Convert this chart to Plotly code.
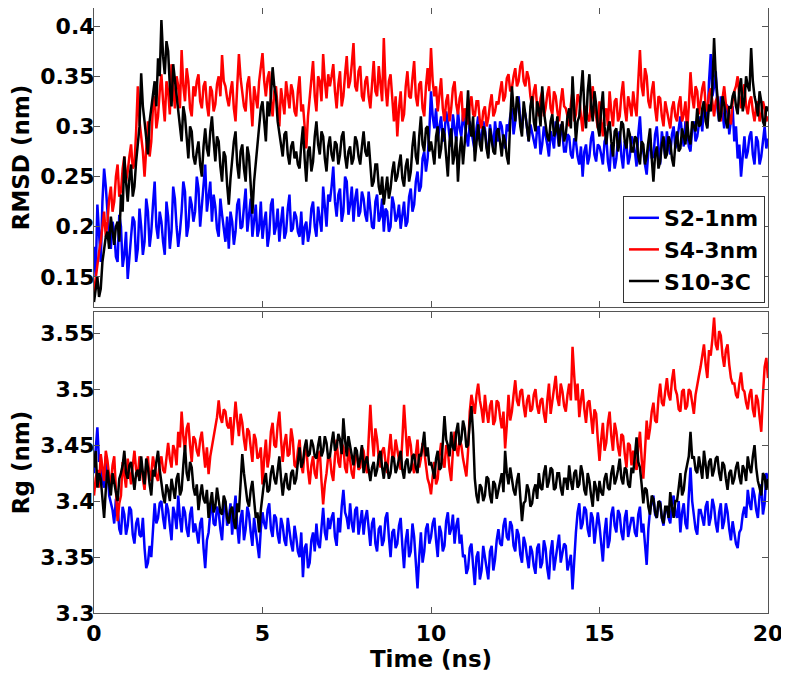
import plotly.graph_objects as go
from plotly.subplots import make_subplots

# Time grid (ns), sampled every 0.05 ns
time_ns = [round(i * 0.05, 2) for i in range(401)]

series_names = ["S2-1nm", "S4-3nm", "S10-3C"]
series_colors = ["#0000ff", "#ff0000", "#000000"]

# Values in pm (0.001 nm).
# "_even" arrays: samples at t = 0.0, 0.1, ..., 20.0 ns
# "_odd" arrays:  samples at t = 0.05, 0.15, ..., 19.95 ns
rmsd_s2_even = [
    180, 222, 165, 258, 212, 178, 195, 165, 200, 172,
    148, 190, 205, 178, 200, 185, 215, 195, 245, 188,
    205, 172, 210, 195, 228, 180, 215, 235, 200, 222,
    215, 238, 222, 262, 230, 205, 220, 190, 212, 185,
    178, 205, 195, 228, 200, 238, 210, 190, 222, 198,
    188, 215, 192, 228, 200, 185, 220, 195, 232, 198,
    210, 190, 182, 205, 195, 225, 190, 208, 240, 200,
    225, 260, 210, 238, 215, 245, 222, 205, 238, 215,
    228, 205, 220, 198, 232, 210, 195, 215, 200, 222,
    210, 198, 225, 205, 238, 222, 255, 240, 275, 268,
    335, 298, 285, 310, 292, 305, 280, 300, 315, 290,
    302, 280, 295, 275, 310, 288, 298, 272, 290, 305,
    285, 300, 278, 295, 318, 305, 330, 298, 312, 285,
    295, 278, 300, 282, 292, 270, 288, 305, 280, 292,
    275, 290, 268, 285, 262, 250, 282, 270, 295, 265,
    280, 262, 290, 255, 275, 268, 295, 258, 282, 270,
    285, 260, 310, 275, 252, 288, 270, 300, 262, 282,
    295, 272, 300, 285, 310, 280, 298, 275, 305, 290,
    310, 325, 300, 372, 340, 318, 330, 298, 320, 305,
    285, 268, 250, 290, 275, 295, 262, 285, 270, 300,
    288,
]
rmsd_s2_odd = [
    150, 195, 225, 240, 190, 205, 170, 212, 160, 195,
    175, 210, 165, 218, 172, 228, 180, 222, 200, 215,
    185, 225, 178, 240, 200, 195, 245, 190, 230, 205,
    250, 200, 248, 215, 245, 232, 198, 228, 195, 210,
    215, 182, 222, 198, 220, 195, 228, 210, 190, 225,
    205, 180, 222, 192, 218, 205, 188, 218, 195, 215,
    195, 215, 200, 185, 218, 200, 220, 195, 215, 232,
    240, 225, 232, 205, 250, 212, 240, 228, 210, 235,
    212, 235, 200, 225, 205, 228, 218, 195, 230, 205,
    222, 215, 200, 230, 215, 245, 235, 268, 255, 295,
    310, 318, 300, 285, 315, 290, 312, 285, 298, 312,
    288, 305, 282, 298, 285, 305, 280, 302, 278, 290,
    305, 285, 302, 310, 292, 322, 305, 318, 295, 302,
    285, 298, 272, 300, 282, 295, 278, 290, 302, 275,
    292, 272, 288, 270, 280, 275, 262, 288, 272, 282,
    272, 285, 265, 282, 258, 288, 270, 285, 262, 290,
    275, 292, 280, 262, 275, 268, 292, 278, 295, 270,
    280, 292, 278, 300, 292, 305, 280, 298, 285, 302,
    295, 312, 345, 330, 355, 305, 315, 322, 292, 320,
    300, 282, 275, 268, 290, 272, 290, 262, 285, 278,
]
rmsd_s4_even = [
    135, 160, 185, 215, 205, 240, 225, 262, 235, 270,
    255, 282, 262, 340, 290, 250, 305, 285, 330, 310,
    352, 305, 335, 362, 318, 340, 376, 325, 345, 310,
    330, 352, 318, 345, 310, 335, 322, 350, 371, 340,
    320, 345, 305, 372, 335, 315, 350, 300, 330, 345,
    373, 330, 355, 310, 340, 300, 325, 345, 318, 335,
    310, 350, 322, 278, 330, 365, 315, 345, 372, 328,
    340, 362, 318, 355, 330, 370, 345, 383, 335, 360,
    325, 350, 318, 365, 330, 345, 388, 320, 352, 305,
    290, 335, 312, 355, 328, 365, 320, 345, 310, 358,
    378, 330, 315, 348, 305, 332, 318, 345, 312, 335,
    318, 302, 330, 310, 325, 298, 320, 308, 332, 315,
    322, 345, 330, 352, 338, 358, 345, 365, 340, 348,
    320, 342, 310, 335, 318, 340, 312, 330, 305, 338,
    318, 300, 335, 312, 328, 295, 320, 305, 340, 310,
    325, 290, 318, 335, 300, 328, 310, 345, 305, 322,
    335, 310, 376, 330, 350, 318, 345, 305, 328, 300,
    315, 298, 325, 305, 330, 312, 295, 354, 318, 335,
    325, 345, 315, 338, 310, 330, 305, 340, 318, 302,
    335, 350, 318, 342, 312, 330, 305, 325, 312, 318,
    310,
]
rmsd_s4_odd = [
    150, 175, 200, 190, 228, 215, 250, 230, 258, 245,
    270, 258, 295, 305, 275, 285, 270, 320, 298, 335,
    325, 345, 312, 340, 350, 318, 340, 358, 318, 340,
    345, 325, 340, 322, 340, 315, 342, 330, 345, 328,
    335, 318, 340, 348, 320, 342, 325, 340, 318, 360,
    345, 348, 325, 335, 318, 338, 312, 330, 342, 315,
    335, 315, 300, 310, 345, 330, 350, 325, 345, 352,
    350, 335, 342, 320, 352, 338, 362, 340, 355, 330,
    345, 330, 342, 335, 360, 325, 340, 345, 325, 330,
    318, 305, 340, 330, 348, 330, 342, 318, 340, 335,
    345, 340, 332, 318, 325, 305, 338, 322, 328, 305,
    308, 322, 312, 325, 305, 315, 300, 322, 310, 325,
    335, 325, 348, 335, 350, 340, 360, 345, 355, 330,
    335, 318, 328, 310, 332, 318, 335, 315, 325, 320,
    310, 322, 305, 332, 310, 318, 308, 328, 318, 298,
    305, 312, 300, 315, 325, 305, 332, 318, 330, 310,
    320, 345, 340, 358, 325, 335, 318, 330, 310, 325,
    305, 318, 310, 322, 305, 325, 320, 330, 340, 312,
    338, 320, 332, 322, 325, 315, 328, 322, 310, 325,
    340, 330, 335, 320, 325, 315, 320, 305, 325, 305,
]
rmsd_s10_even = [
    125, 150, 138, 178, 195, 210, 182, 205, 232, 270,
    225, 262, 240, 280, 353, 305, 272, 320, 345, 368,
    406, 352, 375, 320, 345, 318, 285, 310, 268, 295,
    262, 285, 250, 298, 270, 310, 265, 285, 245, 270,
    222, 268, 295, 248, 282, 245, 270, 213, 262, 300,
    325, 285, 310, 359, 330, 292, 270, 295, 262, 285,
    275, 258, 300, 245, 280, 265, 305, 272, 290, 255,
    290, 265, 282, 272, 295, 258, 280, 268, 285, 262,
    295, 270, 258, 245, 262, 232, 222, 250, 238, 265,
    250, 272, 240, 268, 255, 295, 262, 310, 275, 300,
    285, 262, 300, 278, 292, 250, 298, 272, 245, 290,
    280, 336, 290, 265, 302, 275, 295, 268, 288, 272,
    298, 270, 285, 262, 340, 305, 322, 290, 312, 285,
    330, 295, 318, 340, 300, 285, 312, 295, 280, 305,
    292, 318, 350, 285, 310, 356, 298, 352, 305, 322,
    290, 335, 282, 305, 270, 298, 285, 302, 278, 292,
    275, 288, 262, 282, 270, 298, 245, 280, 265, 290,
    272, 285, 260, 295, 278, 290, 305, 282, 300, 318,
    302, 325, 298, 315, 388, 330, 310, 322, 298, 318,
    335, 312, 348, 325, 340, 378, 330, 310, 325, 300,
    315,
]
rmsd_s10_odd = [
    140, 130, 165, 190, 178, 195, 200, 185, 215, 245,
    248, 230, 265, 300, 320, 285, 305, 335, 320, 350,
    370, 385, 340, 362, 330, 300, 320, 285, 300, 270,
    275, 262, 280, 278, 295, 285, 290, 260, 275, 242,
    248, 285, 262, 275, 258, 280, 235, 245, 285, 318,
    300, 325, 330, 340, 305, 280, 292, 272, 280, 268,
    262, 282, 268, 275, 255, 290, 282, 295, 268, 280,
    272, 285, 262, 290, 270, 275, 262, 290, 270, 280,
    275, 285, 240, 262, 240, 250, 240, 228, 255, 245,
    262, 248, 260, 245, 280, 270, 290, 282, 298, 275,
    275, 290, 268, 298, 270, 285, 262, 290, 275, 262,
    305, 300, 310, 288, 282, 300, 278, 298, 275, 295,
    280, 292, 270, 305, 318, 330, 300, 325, 295, 320,
    305, 325, 300, 315, 290, 305, 290, 310, 298, 285,
    310, 298, 320, 305, 335, 318, 335, 320, 335, 300,
    318, 300, 298, 285, 295, 275, 305, 285, 298, 275,
    290, 270, 285, 262, 285, 268, 272, 258, 282, 268,
    290, 268, 282, 275, 298, 282, 288, 305, 295, 300,
    318, 305, 322, 340, 350, 305, 330, 305, 320, 330,
    320, 338, 315, 350, 335, 345, 322, 335, 305, 320,
]

rg_s2_even = [
    3425, 3466, 3440, 3412, 3430, 3398, 3380, 3395, 3370, 3388,
    3378, 3392, 3362, 3385, 3368, 3358, 3345, 3350, 3398, 3385,
    3400, 3375, 3392, 3365, 3388, 3405, 3372, 3390, 3368, 3395,
    3380, 3362, 3385, 3340, 3372, 3398, 3378, 3390, 3365, 3400,
    3385, 3370, 3405, 3362, 3392, 3375, 3388, 3360, 3372, 3349,
    3390, 3375, 3398, 3368, 3385, 3362, 3378, 3360, 3372, 3355,
    3368, 3350, 3332, 3362, 3345, 3372, 3380, 3358, 3394, 3365,
    3375, 3390, 3360, 3372, 3410, 3385, 3398, 3372, 3395, 3380,
    3370, 3392, 3360, 3385, 3355, 3378, 3365, 3390, 3350, 3375,
    3362, 3385, 3340, 3375, 3355, 3368, 3322, 3372, 3355, 3380,
    3368, 3385, 3350, 3372, 3360, 3390, 3375, 3362, 3385, 3370,
    3352, 3340, 3362, 3325, 3355, 3338, 3350, 3330, 3360, 3348,
    3375, 3360, 3385, 3365, 3378, 3355, 3370, 3345, 3362, 3340,
    3355, 3335, 3362, 3345, 3358, 3330, 3365, 3348, 3370, 3352,
    3360, 3345, 3321, 3372, 3398, 3380, 3392, 3368, 3385, 3375,
    3378, 3346, 3385, 3365, 3395, 3372, 3388, 3365, 3392, 3375,
    3385, 3368, 3395, 3380, 3343, 3392, 3405, 3385, 3400, 3378,
    3395, 3380, 3405, 3385, 3372, 3398, 3375, 3430, 3385, 3370,
    3392, 3378, 3400, 3385, 3395, 3372, 3398, 3382, 3390, 3365,
    3370, 3358, 3375, 3395, 3410, 3392, 3405, 3385, 3415, 3398,
    3420,
]
rg_s2_odd = [
    3448, 3435, 3418, 3440, 3405, 3392, 3402, 3375, 3395, 3370,
    3395, 3370, 3380, 3370, 3385, 3340, 3360, 3375, 3380, 3398,
    3385, 3398, 3378, 3395, 3375, 3385, 3395, 3375, 3388, 3372,
    3372, 3380, 3358, 3365, 3390, 3380, 3395, 3375, 3392, 3378,
    3398, 3390, 3378, 3385, 3365, 3395, 3372, 3385, 3362, 3375,
    3380, 3392, 3375, 3388, 3370, 3385, 3365, 3385, 3362, 3378,
    3355, 3372, 3358, 3340, 3365, 3355, 3362, 3378, 3372, 3385,
    3385, 3368, 3385, 3395, 3390, 3375, 3380, 3392, 3370, 3392,
    3385, 3372, 3380, 3362, 3375, 3360, 3385, 3368, 3372, 3358,
    3378, 3360, 3365, 3350, 3380, 3345, 3350, 3345, 3375, 3362,
    3380, 3365, 3378, 3355, 3382, 3370, 3388, 3378, 3362, 3350,
    3335, 3358, 3342, 3350, 3330, 3360, 3340, 3355, 3338, 3365,
    3362, 3378, 3368, 3382, 3360, 3375, 3352, 3368, 3350, 3360,
    3342, 3358, 3340, 3365, 3340, 3355, 3338, 3362, 3345, 3362,
    3338, 3352, 3350, 3390, 3375, 3395, 3375, 3390, 3362, 3390,
    3362, 3372, 3358, 3388, 3378, 3392, 3372, 3385, 3368, 3385,
    3372, 3388, 3372, 3360, 3375, 3398, 3388, 3398, 3385, 3392,
    3385, 3398, 3390, 3400, 3390, 3380, 3405, 3400, 3375, 3392,
    3385, 3395, 3378, 3402, 3380, 3390, 3375, 3398, 3375, 3382,
    3362, 3372, 3388, 3385, 3398, 3412, 3392, 3405, 3388, 3425,
]
rg_s4_even = [
    3405, 3428, 3442, 3418, 3436, 3415, 3440, 3382, 3405, 3425,
    3438, 3415, 3445, 3422, 3435, 3410, 3440, 3425, 3432, 3418,
    3440, 3425, 3452, 3430, 3445, 3462, 3480, 3445, 3470, 3435,
    3455, 3440, 3462, 3430, 3424, 3448, 3465, 3490, 3470, 3480,
    3465, 3450, 3489, 3458, 3470, 3445, 3462, 3435, 3455, 3440,
    3415, 3455, 3440, 3470, 3448, 3480, 3435, 3460, 3442, 3455,
    3430, 3455, 3425, 3448, 3415, 3440, 3420, 3445, 3397, 3425,
    3440, 3418, 3455, 3430, 3448, 3425, 3438, 3420, 3442, 3430,
    3445, 3425, 3486, 3440, 3455, 3430, 3448, 3425, 3460, 3438,
    3445, 3428, 3486, 3440, 3450, 3425, 3455, 3438, 3445, 3420,
    3406, 3435, 3420, 3452, 3430, 3445, 3418, 3462, 3440, 3450,
    3430, 3445, 3495, 3478, 3505, 3482, 3495, 3470, 3490, 3472,
    3488, 3465, 3447, 3495, 3480, 3508, 3485, 3500, 3475, 3495,
    3482, 3500, 3478, 3492, 3470, 3505, 3488, 3512, 3485, 3498,
    3480, 3505, 3538, 3490, 3475, 3500, 3470, 3490, 3460, 3478,
    3436, 3470, 3452, 3480, 3445, 3462, 3440, 3458, 3430, 3450,
    3445, 3428, 3462, 3420, 3472, 3465, 3488, 3470, 3505, 3485,
    3510, 3490, 3518, 3495, 3480, 3500, 3485, 3498, 3478, 3505,
    3520, 3540, 3510, 3530, 3564, 3535, 3548, 3520, 3540, 3510,
    3505, 3492, 3515, 3498, 3482, 3500, 3475, 3490, 3462, 3520,
    3510,
]
rg_s4_odd = [
    3420, 3412, 3430, 3445, 3422, 3432, 3410, 3398, 3435, 3412,
    3425, 3432, 3428, 3440, 3420, 3432, 3418, 3440, 3422, 3435,
    3428, 3440, 3438, 3450, 3432, 3448, 3458, 3465, 3450, 3458,
    3445, 3455, 3445, 3448, 3440, 3458, 3475, 3475, 3482, 3468,
    3475, 3470, 3472, 3478, 3455, 3465, 3448, 3460, 3438, 3448,
    3438, 3430, 3462, 3450, 3468, 3455, 3452, 3440, 3465, 3432,
    3445, 3432, 3445, 3428, 3432, 3425, 3440, 3418, 3415, 3440,
    3425, 3440, 3435, 3452, 3430, 3448, 3425, 3440, 3428, 3448,
    3432, 3460, 3458, 3465, 3438, 3445, 3435, 3445, 3440, 3455,
    3435, 3455, 3462, 3458, 3432, 3442, 3430, 3452, 3432, 3415,
    3422, 3415, 3440, 3435, 3450, 3428, 3445, 3448, 3455, 3438,
    3422, 3480, 3485, 3495, 3490, 3470, 3480, 3485, 3468, 3490,
    3475, 3480, 3468, 3472, 3495, 3490, 3498, 3485, 3490, 3480,
    3495, 3485, 3490, 3478, 3490, 3478, 3500, 3492, 3505, 3485,
    3495, 3490, 3512, 3505, 3490, 3482, 3488, 3475, 3482, 3455,
    3455, 3445, 3470, 3458, 3470, 3448, 3460, 3442, 3452, 3432,
    3432, 3448, 3438, 3445, 3455, 3480, 3472, 3492, 3488, 3498,
    3495, 3508, 3500, 3482, 3498, 3482, 3500, 3488, 3495, 3512,
    3530, 3522, 3535, 3545, 3540, 3552, 3530, 3535, 3522, 3505,
    3495, 3505, 3500, 3488, 3495, 3482, 3495, 3475, 3495, 3528,
]
rg_s10_even = [
    3430, 3412, 3420, 3385, 3428, 3405, 3418, 3400, 3425, 3445,
    3420, 3435, 3410, 3428, 3440, 3415, 3430, 3405, 3422, 3445,
    3415, 3398, 3410, 3420, 3402, 3425, 3410, 3450, 3418, 3430,
    3405, 3392, 3415, 3398, 3385, 3408, 3395, 3402, 3388, 3400,
    3380, 3395, 3375, 3390, 3442, 3410, 3395, 3418, 3385, 3372,
    3405, 3425, 3410, 3432, 3415, 3440, 3405, 3425, 3410, 3428,
    3420, 3448, 3435, 3455, 3442, 3450, 3438, 3458, 3445, 3452,
    3440, 3462, 3448, 3455, 3474, 3440, 3450, 3432, 3445, 3438,
    3425, 3440, 3418, 3435, 3428, 3445, 3420, 3432, 3425, 3438,
    3430, 3445, 3420, 3438, 3428, 3442, 3425, 3440, 3462, 3448,
    3435, 3420, 3445, 3430, 3476, 3450, 3462, 3445, 3470, 3455,
    3465, 3450, 3485, 3420, 3398, 3412, 3405, 3420, 3398, 3415,
    3410, 3425, 3445, 3415, 3420, 3405, 3425, 3382, 3400, 3410,
    3398, 3415, 3425, 3410, 3432, 3418, 3428, 3412, 3425, 3405,
    3420, 3432, 3410, 3428, 3415, 3425, 3405, 3418, 3395, 3412,
    3418, 3405, 3425, 3410, 3432, 3420, 3438, 3415, 3428, 3412,
    3425, 3457, 3430, 3398, 3410, 3388, 3402, 3385, 3398, 3380,
    3395, 3408, 3385, 3400, 3425, 3410, 3432, 3462, 3440, 3425,
    3430, 3445, 3420, 3438, 3428, 3440, 3418, 3432, 3410, 3428,
    3420, 3435, 3415, 3428, 3440, 3425, 3450, 3418, 3405, 3422,
    3420,
]
rg_s10_odd = [
    3445, 3425, 3405, 3410, 3415, 3425, 3408, 3420, 3432, 3425,
    3432, 3420, 3425, 3418, 3425, 3438, 3415, 3428, 3435, 3428,
    3405, 3415, 3400, 3412, 3420, 3405, 3432, 3425, 3435, 3412,
    3415, 3405, 3402, 3410, 3398, 3390, 3412, 3390, 3405, 3385,
    3392, 3382, 3398, 3420, 3425, 3400, 3410, 3398, 3390, 3392,
    3418, 3408, 3425, 3420, 3428, 3420, 3418, 3412, 3425, 3415,
    3435, 3430, 3448, 3440, 3455, 3440, 3450, 3440, 3458, 3438,
    3452, 3445, 3460, 3442, 3455, 3458, 3440, 3448, 3430, 3450,
    3435, 3428, 3430, 3422, 3440, 3430, 3435, 3420, 3440, 3425,
    3438, 3428, 3435, 3425, 3440, 3430, 3442, 3450, 3440, 3432,
    3428, 3438, 3428, 3452, 3455, 3440, 3448, 3462, 3450, 3472,
    3448, 3470, 3460, 3405, 3415, 3400, 3422, 3405, 3418, 3402,
    3420, 3408, 3425, 3430, 3410, 3418, 3400, 3398, 3415, 3395,
    3410, 3402, 3412, 3425, 3412, 3430, 3410, 3425, 3412, 3420,
    3410, 3418, 3425, 3412, 3432, 3410, 3425, 3405, 3418, 3400,
    3408, 3420, 3412, 3425, 3415, 3428, 3420, 3430, 3415, 3430,
    3440, 3435, 3415, 3412, 3395, 3405, 3390, 3400, 3385, 3395,
    3385, 3395, 3400, 3412, 3405, 3425, 3440, 3438, 3428, 3440,
    3420, 3430, 3435, 3422, 3438, 3425, 3435, 3420, 3425, 3415,
    3430, 3422, 3432, 3418, 3430, 3440, 3430, 3412, 3425, 3410,
]

x_tickvals = [0, 5, 10, 15, 20]
x_ticktext = ["0", "5", "10", "15", "20"]
rmsd_tickvals = [0.15, 0.2, 0.25, 0.3, 0.35, 0.4]
rmsd_ticktext = ["0.15", "0.2", "0.25", "0.3", "0.35", "0.4"]
rg_tickvals = [3.3, 3.35, 3.4, 3.45, 3.5, 3.55]
rg_ticktext = ["3.3", "3.35", "3.4", "3.45", "3.5", "3.55"]


def merge(even, odd):
    out = []
    for i, v in enumerate(even):
        out.append(v / 1000)
        if i < len(odd):
            out.append(odd[i] / 1000)
    return out


rmsd_all = [merge(rmsd_s2_even, rmsd_s2_odd), merge(rmsd_s4_even, rmsd_s4_odd),
            merge(rmsd_s10_even, rmsd_s10_odd)]
rg_all = [merge(rg_s2_even, rg_s2_odd), merge(rg_s4_even, rg_s4_odd),
          merge(rg_s10_even, rg_s10_odd)]

FONT = "DejaVu Sans, Arial, sans-serif"
AX = "#555555"
LW = 2.5

fig = make_subplots(rows=2, cols=1, shared_xaxes=False, vertical_spacing=0.0)

for name, color, vals in zip(series_names, series_colors, rmsd_all):
    fig.add_trace(go.Scatter(x=time_ns, y=vals, mode="lines", name=name,
                             line=dict(color=color, width=LW), showlegend=True),
                  row=1, col=1)
for name, color, vals in zip(series_names, series_colors, rg_all):
    fig.add_trace(go.Scatter(x=time_ns, y=vals, mode="lines", name=name,
                             line=dict(color=color, width=LW), showlegend=False),
                  row=2, col=1)

common_axis = dict(showline=True, linecolor=AX, linewidth=1, mirror="ticks",
                   ticks="inside", ticklen=6, tickcolor=AX, showgrid=False,
                   zeroline=False,
                   tickfont=dict(family=FONT, size=22, color="black", weight="bold"))
title_font = dict(family=FONT, size=23, color="black", weight="bold")

# The page body has an 8px margin: the figure is sized to fill the window.
fig.update_layout(
    width=781, height=671,
    margin=dict(l=86, r=21, t=0, b=66, autoexpand=False),
    paper_bgcolor="white", plot_bgcolor="white",
    font=dict(family=FONT, color="black"),
    xaxis=dict(domain=[0, 1], range=[0, 20], tickvals=x_tickvals, ticktext=x_ticktext,
               showticklabels=False, anchor="y", **common_axis),
    yaxis=dict(domain=[0.5058, 1.0], range=[0.12, 0.418], tickvals=rmsd_tickvals,
               ticktext=rmsd_ticktext, anchor="x", ticklabelstandoff=-6,
               title=dict(text="RMSD (nm)", standoff=4, font=title_font),
               **common_axis),
    xaxis2=dict(domain=[0, 1], range=[0, 20], tickvals=x_tickvals, ticktext=x_ticktext,
                anchor="y2", ticklabelstandoff=1,
                title=dict(text="Time (ns)", standoff=2, font=title_font),
                **common_axis),
    yaxis2=dict(domain=[0.0, 0.4975], range=[3.3, 3.569], tickvals=rg_tickvals,
                ticktext=rg_ticktext, anchor="x2", ticklabelstandoff=-6,
                title=dict(text="Rg (nm)", standoff=4, font=title_font),
                **common_axis),
    legend=dict(x=0.9955, y=0.5124, xanchor="right", yanchor="bottom",
                bgcolor="white", bordercolor="#333333", borderwidth=1,
                font=dict(family=FONT, size=22, color="black", weight="bold"),
                itemwidth=30, tracegroupgap=0),
)

fig.write_html("out.html")
